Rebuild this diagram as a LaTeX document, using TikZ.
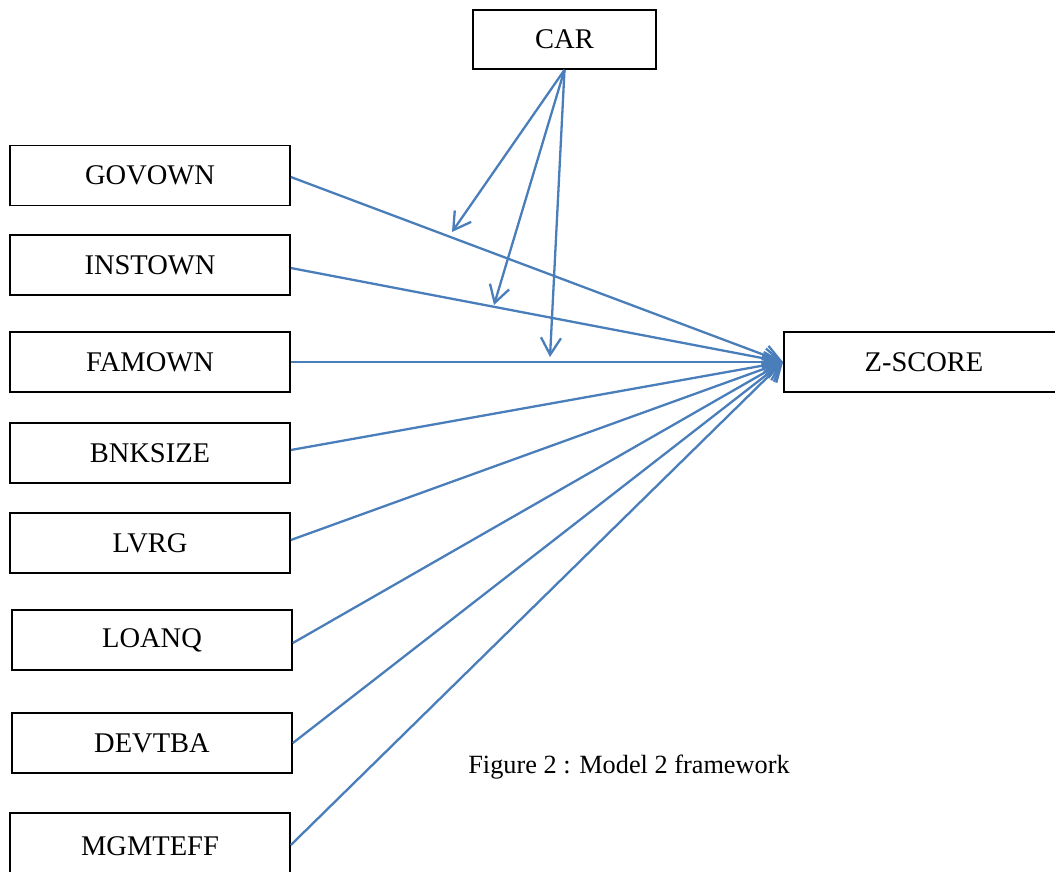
\documentclass[tikz,border=0pt]{standalone}
\usepackage{fontspec}
\setmainfont{Liberation Serif}
\usetikzlibrary{arrows.meta}
\definecolor{wordblue}{HTML}{4A7EBB}
\begin{document}
\begin{tikzpicture}[x=1pt,y=-1pt,
  varbox/.style={draw=black,line width=1.7pt,minimum width=280pt,minimum height=60pt,inner sep=0pt,font=\fontsize{28.5}{30}\selectfont},
  link/.style={draw=wordblue,line width=2.3pt,-{Straight Barb[length=17pt,width=20pt,line width=2.3pt]}}]
\useasboundingbox (0,0) rectangle (1055,871);
\node[varbox,minimum width=183pt,minimum height=59pt] (car) at (564.5,39.5) {CAR};
\node[varbox] (gov) at (150,175.5) {GOVOWN};
\node[varbox] (inst) at (150,265) {INSTOWN};
\node[varbox] (fam) at (150,362) {FAMOWN};
\node[varbox] (bnk) at (150,453) {BNKSIZE};
\node[varbox] (lvrg) at (150,543) {LVRG};
\node[varbox] (loan) at (152,640) {LOANQ};
\node[varbox] (dev) at (152,743) {DEVTBA};
\node[varbox,minimum height=66pt] (mgmt) at (150,846) {MGMTEFF};
\node[varbox,minimum width=280pt] (z) at (924,362) {Z-SCORE};
\node[font=\fontsize{26.3}{28}\selectfont] (cap) at (629,767) {Figure 2 : Model 2 framework};
\coordinate (zin) at (783,362);
\coordinate (m1) at (452,232);
\coordinate (m2) at (494,305);
\coordinate (m3) at (550,357);
\draw[link] (gov.east |- 0,177) -- (zin);
\draw[link] (inst.east |- 0,268) -- (zin);
\draw[link] (fam.east) -- (zin);
\draw[link] (bnk.east |- 0,450) -- (zin);
\draw[link] (lvrg.east |- 0,540) -- (zin);
\draw[link] (loan.east |- 0,643) -- (zin);
\draw[link] (dev.east) -- (zin);
\draw[link] (mgmt.east |- 0,845) -- (zin);
\draw[link] (car.south) -- (m1);
\draw[link] (car.south) -- (m2);
\draw[link] (car.south) -- (m3);
\end{tikzpicture}
\end{document}
